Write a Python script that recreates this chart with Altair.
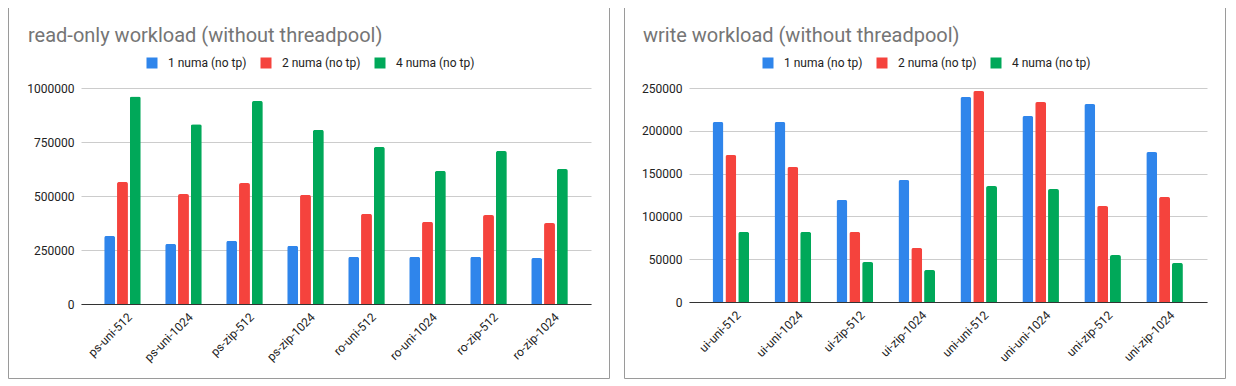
import altair as alt
import pandas as pd

series = ["1 numa (no tp)", "2 numa (no tp)", "4 numa (no tp)"]
colors = ["#2F85EB", "#F5433D", "#00A859"]

read_categories = ["ps-uni-512", "ps-uni-1024", "ps-zip-512", "ps-zip-1024",
                   "ro-uni-512", "ro-uni-1024", "ro-zip-512", "ro-zip-1024"]
read_1numa = [315000, 278000, 292000, 269000, 218000, 218000, 218000, 213000]
read_2numa = [565000, 509000, 560000, 505000, 417000, 380000, 412000, 375000]
read_4numa = [961000, 832000, 940000, 806000, 727000, 616000, 708000, 625000]
read_ticks = [0, 250000, 500000, 750000, 1000000]

write_categories = ["ui-uni-512", "ui-uni-1024", "ui-zip-512", "ui-zip-1024",
                    "uni-uni-512", "uni-uni-1024", "uni-zip-512", "uni-zip-1024"]
write_1numa = [210300, 210300, 119200, 142500, 239500, 217300, 231300, 175200]
write_2numa = [171700, 157700, 81800, 63100, 246500, 233600, 112100, 122700]
write_4numa = [81800, 81800, 46700, 37400, 135500, 132000, 54900, 45600]
write_ticks = [0, 50000, 100000, 150000, 200000, 250000]

FONT = "Roboto"


def long_table(cats, s1, s2, s4):
    rows = []
    for vals, name in zip([s1, s2, s4], series):
        for c, v in zip(cats, vals):
            rows.append({"cat": c, "series": name, "value": v})
    return pd.DataFrame(rows)


def panel(title, cats, s1, s2, s4, ticks, w, h, frame, legend_x, title_dx):
    df = long_table(cats, s1, s2, s4)
    bars = alt.Chart(df).mark_bar(
        cornerRadiusTopLeft=2, cornerRadiusTopRight=2
    ).encode(
        x=alt.X("cat:N", sort=cats,
                scale=alt.Scale(paddingInner=0.4, paddingOuter=0.38),
                axis=alt.Axis(title=None, labelAngle=-45, ticks=False,
                              domainColor="#333333", labelFontSize=12,
                              labelFont=FONT, labelColor="#222222", grid=False,
                              labelPadding=7, labelOffset=4)),
        xOffset=alt.XOffset("series:N", sort=series,
                            scale=alt.Scale(paddingInner=0.15, paddingOuter=0)),
        y=alt.Y("value:Q",
                scale=alt.Scale(domain=[ticks[0], ticks[-1]], nice=False),
                axis=alt.Axis(title=None, values=ticks, format="d",
                              domain=False, ticks=False, labelPadding=7,
                              gridColor="#cccccc", labelFontSize=12,
                              labelFont=FONT, labelColor="#222222")),
        color=alt.Color("series:N",
                        scale=alt.Scale(domain=series, range=colors),
                        legend=alt.Legend(title=None, orient="none",
                                          legendX=legend_x, legendY=-31,
                                          direction="horizontal",
                                          symbolType="square", symbolSize=121,
                                          symbolStrokeWidth=0,
                                          labelFontSize=12, labelFont=FONT,
                                          labelColor="#222222",
                                          columnPadding=13, labelOffset=10,
                                          padding=0)),
    )
    x1, x2, y1, y2 = frame
    box = alt.Chart(pd.DataFrame({"k": [0]})).mark_rect(
        fillOpacity=0, stroke="#9a9a9a", strokeWidth=1
    ).encode(
        x=alt.value(x1), x2=alt.value(x2), y=alt.value(y1), y2=alt.value(y2)
    )
    return alt.layer(box, bars).properties(
        width=w, height=h,
        title=alt.TitleParams(title, anchor="start", frame="group",
                              dx=title_dx, offset=-40,
                              fontSize=20, font=FONT, color="#757575",
                              fontWeight="normal"),
    )


left = panel("read-only workload (without threadpool)", read_categories,
             read_1numa, read_2numa, read_4numa, read_ticks, 510, 216,
             (-72.5, 528.5, -81.5, 290.5), 65, -53)
right = panel("write workload (without threadpool)", write_categories,
              write_1numa, write_2numa, write_4numa, write_ticks, 518, 214,
              (-64.5, 536.5, -81.5, 290.5), 73, -46)

chart = alt.hconcat(left, right, spacing=14).resolve_scale(
    x="independent", y="independent", color="independent"
).resolve_legend(color="independent").configure(
    padding={"top": -2, "left": 0, "right": 0, "bottom": 0}
).configure_view(strokeWidth=0)

chart.save("out.html", embed_options={"renderer": "svg", "actions": False})
